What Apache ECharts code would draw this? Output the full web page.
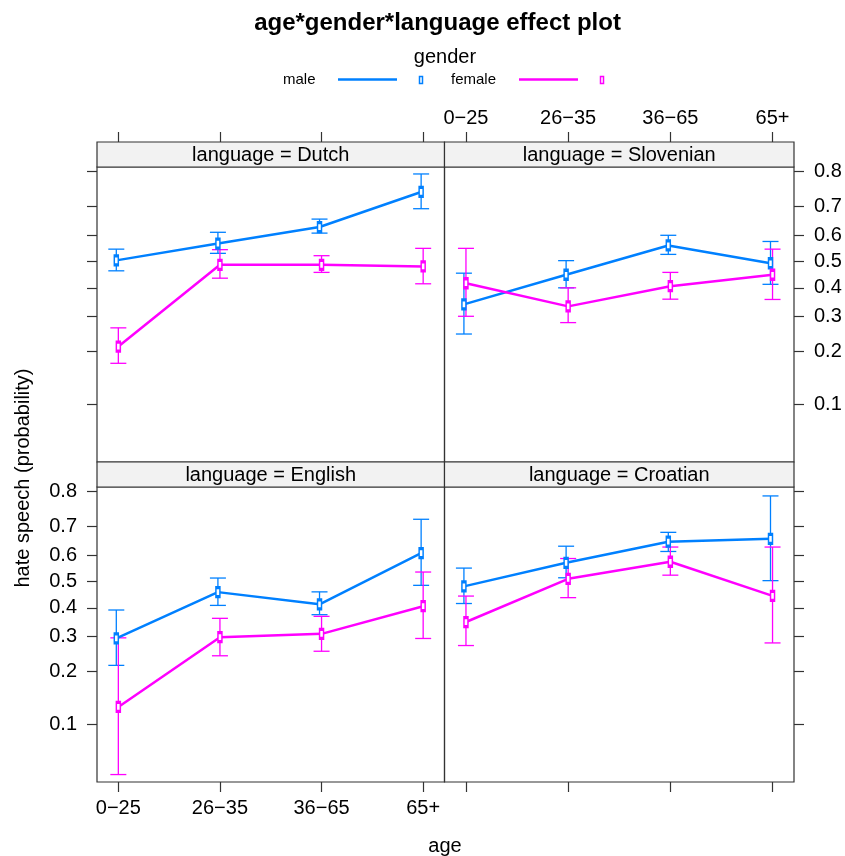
<!DOCTYPE html>
<html>
<head>
<meta charset="utf-8">
<script src="https://cdn.jsdelivr.net/npm/echarts@6/dist/echarts.min.js"></script>
<style>html,body{margin:0;padding:0;background:#fff;}#chart{width:845px;height:856px;}</style>
</head>
<body>
<div id="chart"></div>
<script>
// ---- data (probabilities) ----
const ageLabels = ['0\u221225', '26\u221235', '36\u221265', '65+'];
const languages = ['Dutch', 'Slovenian', 'English', 'Croatian'];
const genders = ['male', 'female'];
const tickProbs = [0.1, 0.2, 0.3, 0.4, 0.5, 0.6, 0.7, 0.8];

const dutchMale = [0.504, 0.568, 0.629, 0.744];
const dutchMaleLow = [0.464, 0.531, 0.607, 0.692];
const dutchMaleHigh = [0.547, 0.610, 0.657, 0.793];
const dutchFemale = [0.213, 0.487, 0.487, 0.481];
const dutchFemaleLow = [0.173, 0.436, 0.458, 0.415];
const dutchFemaleHigh = [0.265, 0.545, 0.522, 0.550];

const slovenianMale = [0.341, 0.449, 0.561, 0.493];
const slovenianMaleLow = [0.247, 0.400, 0.527, 0.413];
const slovenianMaleHigh = [0.455, 0.503, 0.599, 0.576];
const slovenianFemale = [0.417, 0.334, 0.406, 0.449];
const slovenianFemaleLow = [0.301, 0.281, 0.359, 0.358];
const slovenianFemaleHigh = [0.550, 0.400, 0.458, 0.547];

const englishMale = [0.294, 0.459, 0.413, 0.607];
const englishMaleLow = [0.216, 0.409, 0.375, 0.485];
const englishMaleHigh = [0.392, 0.513, 0.460, 0.722];
const englishFemale = [0.127, 0.298, 0.309, 0.406];
const englishFemaleLow = [0.049, 0.242, 0.255, 0.294];
const englishFemaleHigh = [0.296, 0.362, 0.369, 0.536];

const croatianMale = [0.481, 0.571, 0.648, 0.658];
const croatianMaleLow = [0.416, 0.514, 0.613, 0.503];
const croatianMaleHigh = [0.551, 0.632, 0.680, 0.788];
const croatianFemale = [0.349, 0.510, 0.575, 0.445];
const croatianFemaleLow = [0.272, 0.438, 0.524, 0.280];
const croatianFemaleHigh = [0.444, 0.587, 0.629, 0.629];

const panelData = {
  Dutch: { male: [dutchMale, dutchMaleLow, dutchMaleHigh], female: [dutchFemale, dutchFemaleLow, dutchFemaleHigh] },
  Slovenian: { male: [slovenianMale, slovenianMaleLow, slovenianMaleHigh], female: [slovenianFemale, slovenianFemaleLow, slovenianFemaleHigh] },
  English: { male: [englishMale, englishMaleLow, englishMaleHigh], female: [englishFemale, englishFemaleLow, englishFemaleHigh] },
  Croatian: { male: [croatianMale, croatianMaleLow, croatianMaleHigh], female: [croatianFemale, croatianFemaleLow, croatianFemaleHigh] }
};

// ---- styling / layout ----
const FONT = '"Liberation Sans", Arial, Helvetica, sans-serif';
const colors = { male: '#0080ff', female: '#ff00ff' };
const dodge = { male: -0.02, female: 0.0 };
const frame = '#333333';
const logit = p => Math.log(p / (1 - p));
const invLogit = v => 1 / (1 + Math.exp(-v));

const colLeft = [97, 444.5];
const colWidth = [347.5, 349.5];
const stripH = 25;
const rowTop = [142, 462];
const plotH = 295;
// panel order: Dutch (top-left), Slovenian (top-right), English (bottom-left), Croatian (bottom-right)
const panelPos = [[0, 0], [1, 0], [0, 1], [1, 1]];

const grids = [], xAxes = [], yAxes = [], series = [], graphics = [];
const yTickVals = tickProbs.map(logit);
const xTickVals = ageLabels.map((_, i) => i + 1);

languages.forEach((lang, gi) => {
  const [c, r] = panelPos[gi];
  const left = colLeft[c], width = colWidth[c];
  const top = rowTop[r] + stripH;
  grids.push({ left: left, top: top, width: width, height: plotH, show: true,
    borderColor: frame, borderWidth: 1.2, backgroundColor: 'transparent', containLabel: false });

  const xOnTop = r === 0;
  const showXLabels = (gi === 1 || gi === 2);
  xAxes.push({
    type: 'value', gridIndex: gi, min: 0.79, max: 4.21,
    position: xOnTop ? 'top' : 'bottom', offset: xOnTop ? stripH : 0,
    axisLine: { show: false, onZero: false }, splitLine: { show: false },
    axisTick: { show: true, customValues: xTickVals, length: 10, inside: false, lineStyle: { color: frame, width: 1.2 } },
    axisLabel: { show: showXLabels, customValues: xTickVals, margin: xOnTop ? 14 : 16,
      formatter: v => ageLabels[Math.round(v) - 1], color: '#000', fontSize: 20, fontFamily: FONT }
  });
  const yOnRight = c === 1;
  const showYLabels = (gi === 1 || gi === 2);
  yAxes.push({
    type: 'value', gridIndex: gi, min: -3.08, max: 1.45,
    position: yOnRight ? 'right' : 'left',
    axisLine: { show: false, onZero: false }, splitLine: { show: false },
    axisTick: { show: true, customValues: yTickVals, length: 10, inside: false, lineStyle: { color: frame, width: 1.2 } },
    axisLabel: { show: showYLabels, customValues: yTickVals, margin: 20,
      formatter: v => invLogit(v).toFixed(1), color: '#000', fontSize: 20, fontFamily: FONT }
  });

  // strip
  graphics.push({ type: 'rect', shape: { x: left, y: rowTop[r], width: width, height: stripH },
    style: { fill: '#f2f2f2', stroke: frame, lineWidth: 1.2 }, z: 10 });
  graphics.push({ type: 'text', x: left + width / 2, y: rowTop[r] + stripH / 2 + 1,
    style: { text: 'language = ' + lang, font: '20px ' + FONT, fill: '#000', textAlign: 'center', textVerticalAlign: 'middle' }, z: 11 });

  genders.forEach(g => {
    const [est, lo, hi] = panelData[lang][g];
    const col = colors[g];
    series.push({
      type: 'custom', xAxisIndex: gi, yAxisIndex: gi, z: 2,
      data: est.map((_, i) => [i + 1 + dodge[g], logit(lo[i]), logit(hi[i])]),
      encode: { x: 0, y: [1, 2] },
      renderItem: (params, api) => {
        const x = api.value(0);
        const a = api.coord([x, api.value(1)]);
        const b = api.coord([x, api.value(2)]);
        const cap = 8;
        return { type: 'group', children: [
          { type: 'line', shape: { x1: a[0], y1: a[1], x2: b[0], y2: b[1] }, style: { stroke: col, lineWidth: 1.3 } },
          { type: 'line', shape: { x1: a[0] - cap, y1: a[1], x2: a[0] + cap, y2: a[1] }, style: { stroke: col, lineWidth: 1.3 } },
          { type: 'line', shape: { x1: b[0] - cap, y1: b[1], x2: b[0] + cap, y2: b[1] }, style: { stroke: col, lineWidth: 1.3 } }
        ] };
      },
      animation: false, silent: true
    });
    series.push({
      type: 'line', name: g, xAxisIndex: gi, yAxisIndex: gi, z: 3,
      data: est.map((v, i) => [i + 1 + dodge[g], logit(v)]),
      color: col, symbol: 'rect', symbolSize: [4, 9], showSymbol: true,
      itemStyle: { color: '#ffffff', borderColor: col, borderWidth: 2.2 },
      lineStyle: { color: col, width: 2.5 },
      animation: false, silent: true
    });
  });
});

// title, legend, axis titles
graphics.push({ type: 'text', x: 437.5, y: 23,
  style: { text: 'age*gender*language effect plot', font: 'bold 24px ' + FONT, fill: '#000', textAlign: 'center', textVerticalAlign: 'middle' } });
graphics.push({ type: 'text', x: 445, y: 57,
  style: { text: 'gender', font: '20px ' + FONT, fill: '#000', textAlign: 'center', textVerticalAlign: 'middle' } });
const legendItems = [
  { g: 'male', tx: 283, lx: 338 },
  { g: 'female', tx: 451, lx: 519 }
];
legendItems.forEach(it => {
  const col = colors[it.g];
  graphics.push({ type: 'text', x: it.tx, y: 80,
    style: { text: it.g, font: '15px ' + FONT, fill: '#000', textAlign: 'left', textVerticalAlign: 'middle' } });
  graphics.push({ type: 'line', shape: { x1: it.lx, y1: 79.5, x2: it.lx + 59, y2: 79.5 },
    style: { stroke: col, lineWidth: 2.5 } });
  graphics.push({ type: 'rect', shape: { x: it.lx + 81.5, y: 76.5, width: 3, height: 7 },
    style: { fill: '#fff', stroke: col, lineWidth: 1.5 } });
});
graphics.push({ type: 'text', x: 445, y: 846,
  style: { text: 'age', font: '20px ' + FONT, fill: '#000', textAlign: 'center', textVerticalAlign: 'middle' } });
graphics.push({ type: 'text', x: 23, y: 478, rotation: Math.PI / 2,
  style: { text: 'hate speech (probability)', font: '20px ' + FONT, fill: '#000', textAlign: 'center', textVerticalAlign: 'middle' } });

const chart = echarts.init(document.getElementById('chart'), null, { renderer: 'canvas' });
chart.setOption({
  animation: false,
  backgroundColor: '#ffffff',
  grid: grids,
  xAxis: xAxes,
  yAxis: yAxes,
  series: series,
  graphic: graphics
});
</script>
</body>
</html>
